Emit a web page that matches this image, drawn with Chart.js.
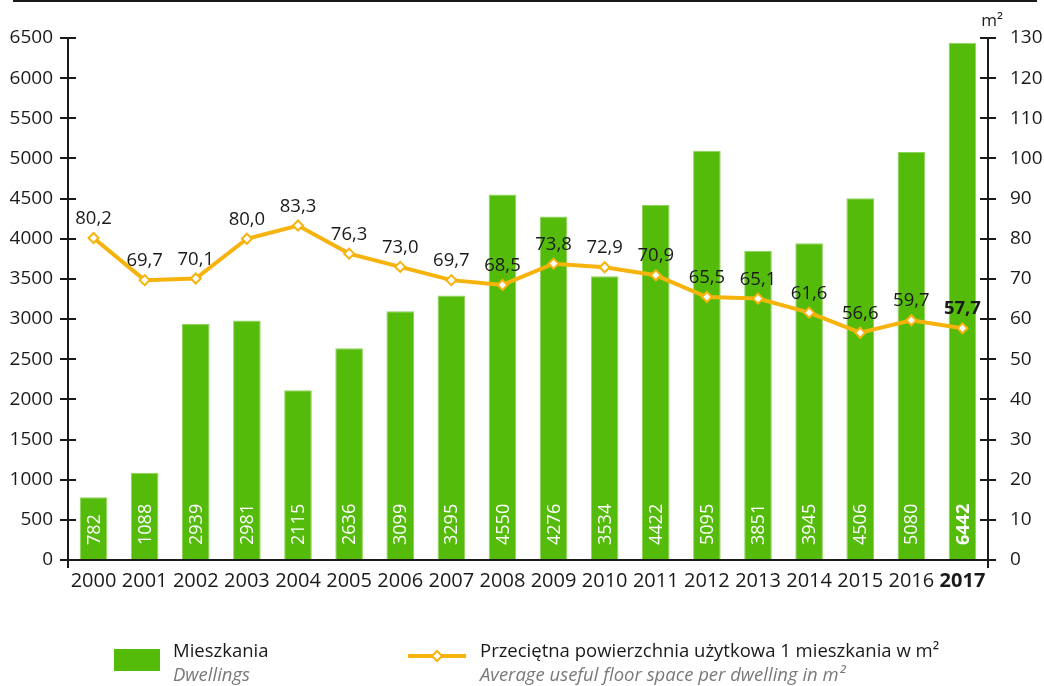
<!DOCTYPE html>
<html lang="pl">
<head>
  <meta charset="UTF-8">
  <title>Mieszkania oddane do użytkowania</title>
  <script src="https://cdn.jsdelivr.net/npm/chart.js"></script>
  <style>
    body {
      margin: 0;
      padding: 0;
      font-family: 'Open Sans', sans-serif;
      color: #1a1a1a;
      background: #fff;
    }
    #wrap {
      position: relative;
      width: 1044px;
      height: 686px;
      overflow: hidden;
    }
    #topLine {
      position: absolute;
      left: 13px;
      top: 0px;
      width: 1024px;
      height: 2px;
      background: #1a1a1a;
    }
    .leg {
      position: absolute;
      font-size: 18.5px;
      line-height: 24px;
      white-space: nowrap;
    }
    .leg i {
      color: #7a7a7a;
    }
    #legBox {
      position: absolute;
      left: 114px;
      top: 649px;
      width: 46px;
      height: 22px;
      background: #55bb0a;
    }
  </style>
</head>
<body>
  <div id="wrap">
    <canvas id="chart" width="1044" height="686"></canvas>
    <div id="topLine"></div>
    <div id="legBox"></div>
    <div class="leg" style="left:173px;top:638px;">Mieszkania<br><i>Dwellings</i></div>
    <canvas id="legLine" width="62" height="16" style="position:absolute;left:406px;top:648px;"></canvas>
    <div class="leg" style="left:480px;top:638px;">Przeciętna powierzchnia użytkowa 1 mieszkania w m²<br><i>Average useful floor space per dwelling in m²</i></div>
  </div>
  <script>
    const years = ['2000', '2001', '2002', '2003', '2004', '2005', '2006', '2007', '2008',
      '2009', '2010', '2011', '2012', '2013', '2014', '2015', '2016', '2017'];
    const dwellings = [782, 1088, 2939, 2981, 2115, 2636, 3099, 3295, 4550,
      4276, 3534, 4422, 5095, 3851, 3945, 4506, 5080, 6442];
    const floorSpace = [80.2, 69.7, 70.1, 80.0, 83.3, 76.3, 73.0, 69.7, 68.5,
      73.8, 72.9, 70.9, 65.5, 65.1, 61.6, 56.6, 59.7, 57.7];

    const GREEN = '#55bb0a';
    const ORANGE = '#f6b30c';
    const TEXT = '#1a1a1a';
    const FONT = "'Open Sans', sans-serif";
    const last = years.length - 1;

    const fmt = v => v.toFixed(1).replace('.', ',');

    // axis lines with ticks crossing both sides, value labels, m² title
    const decorations = {
      id: 'decorations',
      afterDatasetsDraw(chart) {
        const ctx = chart.ctx;
        const area = chart.chartArea;
        const yL = chart.scales.y;
        const yR = chart.scales.y1;
        ctx.save();
        ctx.strokeStyle = TEXT;
        ctx.lineWidth = 2;
        ctx.beginPath();
        ctx.moveTo(area.left, area.top);
        ctx.lineTo(area.left, area.bottom + 8);
        ctx.moveTo(area.right, area.top);
        ctx.lineTo(area.right, area.bottom + 8);
        ctx.moveTo(area.left - 8, area.bottom);
        ctx.lineTo(area.right + 8, area.bottom);
        yL.ticks.forEach(t => {
          const py = Math.round(yL.getPixelForValue(t.value));
          ctx.moveTo(area.left - 8, py);
          ctx.lineTo(area.left + 8, py);
        });
        yR.ticks.forEach(t => {
          const py = Math.round(yR.getPixelForValue(t.value));
          ctx.moveTo(area.right - 8, py);
          ctx.lineTo(area.right + 8, py);
        });
        ctx.stroke();

        // bar values, rotated, inside the bars
        const barMeta = chart.getDatasetMeta(0);
        ctx.fillStyle = '#ffffff';
        ctx.textAlign = 'left';
        ctx.textBaseline = 'middle';
        barMeta.data.forEach((bar, i) => {
          ctx.save();
          ctx.translate(bar.x + 1, area.bottom - 15);
          ctx.rotate(-Math.PI / 2);
          ctx.font = (i === last ? 'bold ' : '') + '18px ' + FONT;
          ctx.fillText(String(dwellings[i]), 0, 0);
          ctx.restore();
        });

        // line values above points
        const lineMeta = chart.getDatasetMeta(1);
        ctx.fillStyle = TEXT;
        ctx.textAlign = 'center';
        ctx.textBaseline = 'bottom';
        lineMeta.data.forEach((pt, i) => {
          ctx.font = (i === last ? 'bold ' : '') + '18.5px ' + FONT;
          ctx.fillText(fmt(floorSpace[i]), pt.x, pt.y - 10);
        });

        ctx.font = '17px ' + FONT;
        ctx.textAlign = 'center';
        ctx.textBaseline = 'middle';
        ctx.fillText('m²', area.right + 4, 21);
        ctx.restore();
      }
    };

    new Chart(document.getElementById('chart'), {
      data: {
        labels: years,
        datasets: [{
          type: 'bar',
          data: dwellings,
          yAxisID: 'y',
          backgroundColor: GREEN,
          borderColor: '#8fd35a',
          borderWidth: 1,
          categoryPercentage: 1,
          barPercentage: 0.54,
          order: 2
        }, {
          type: 'line',
          data: floorSpace,
          yAxisID: 'y1',
          borderColor: ORANGE,
          borderWidth: 4,
          pointStyle: 'rectRot',
          pointRadius: 5,
          pointBorderWidth: 2,
          pointBackgroundColor: '#ffffff',
          pointBorderColor: ORANGE,
          tension: 0,
          order: 1
        }]
      },
      options: {
        responsive: false,
        animation: false,
        layout: { padding: { top: 38, bottom: 86, left: 0, right: 0 } },
        plugins: {
          legend: { display: false },
          tooltip: { enabled: false }
        },
        scales: {
          x: {
            grid: { display: false, drawTicks: false },
            border: { display: false },
            afterFit: s => { s.height = 40; },
            ticks: {
              padding: 9,
              color: TEXT,
              maxRotation: 0,
              autoSkip: false,
              font: ctx => ({ family: FONT, size: 20, weight: ctx.index === last ? 'bold' : 'normal' })
            }
          },
          y: {
            position: 'left',
            min: 0,
            max: 6500,
            grid: { display: false, drawTicks: false },
            border: { display: false },
            afterFit: s => { s.width = 68; },
            ticks: {
              stepSize: 500,
              padding: 15,
              color: TEXT,
              font: { family: FONT, size: 19 },
              callback: v => String(v)
            }
          },
          y1: {
            position: 'right',
            min: 0,
            max: 130,
            grid: { display: false, drawTicks: false },
            border: { display: false },
            afterFit: s => { s.width = 56; },
            ticks: { stepSize: 10, padding: 22, color: TEXT, font: { family: FONT, size: 19 } }
          }
        }
      },
      plugins: [decorations]
    });

    // legend line sample
    const lc = document.getElementById('legLine').getContext('2d');
    lc.strokeStyle = ORANGE;
    lc.lineWidth = 4;
    lc.beginPath();
    lc.moveTo(2, 8);
    lc.lineTo(60, 8);
    lc.stroke();
    lc.fillStyle = '#ffffff';
    lc.lineWidth = 2;
    lc.beginPath();
    lc.moveTo(31, 3);
    lc.lineTo(36, 8);
    lc.lineTo(31, 13);
    lc.lineTo(26, 8);
    lc.closePath();
    lc.fill();
    lc.stroke();
  </script>
</body>
</html>
